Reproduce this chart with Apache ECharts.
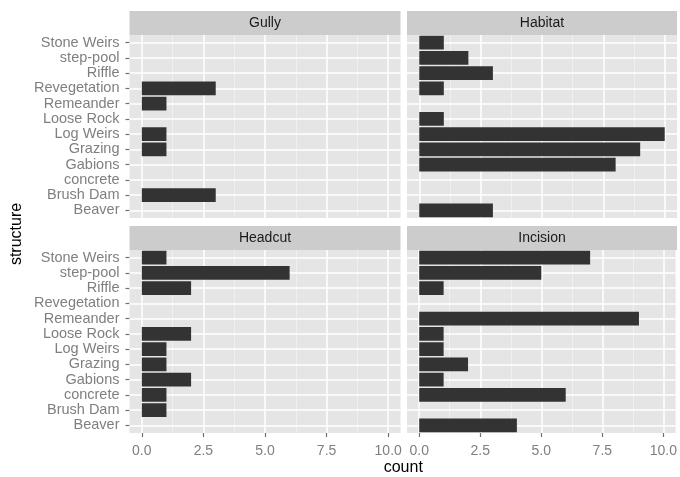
<!DOCTYPE html>
<html>
<head>
<meta charset="utf-8">
<script src="https://cdn.jsdelivr.net/npm/echarts@6/dist/echarts.min.js"></script>
<style>
  html, body { margin: 0; padding: 0; background: #ffffff; }
  #chart { width: 680px; height: 477px; }
</style>
</head>
<body>
<div id="chart"></div>
<script>
// Structure types, listed bottom to top on the vertical axis
const structures = ['Beaver', 'Brush Dam', 'concrete', 'Gabions', 'Grazing', 'Log Weirs',
  'Loose Rock', 'Remeander', 'Revegetation', 'Riffle', 'step-pool', 'Stone Weirs'];

// Counts per structure for each facet (same order as structures)
const gully    = [0, 3, 0, 0, 1, 1, 0, 1, 3, 0, 0, 0];
const habitat  = [3, 0, 0, 8, 9, 10, 1, 0, 1, 3, 2, 1];
const headcut  = [0, 1, 1, 2, 1, 1, 2, 0, 0, 2, 6, 1];
const incision = [4, 0, 6, 1, 2, 1, 1, 9, 0, 1, 5, 7];

const facetNames = ['Gully', 'Habitat', 'Headcut', 'Incision'];
const facetValues = [gully, habitat, headcut, incision];

// Count axis breaks
const countTicks = [0, 2.5, 5, 7.5, 10];
const countMinorTicks = [1.25, 3.75, 6.25, 8.75];

const FONT = "'Liberation Sans', Arial, sans-serif";
const PANEL_BG = '#E5E5E5';
const STRIP_BG = '#CCCCCC';
const BAR_FILL = '#333333';
const AXIS_GREY = '#7F7F7F';
const TICK_GREY = '#6E6E6E';
const STRIP_H = 24;

// 2x2 facet layout: [Gully, Habitat] on top, [Headcut, Incision] below
const panels = [
  { left: 129.5, top: 35,  width: 271, height: 183, showY: true,  showX: false },
  { left: 407,   top: 35,  width: 270, height: 183, showY: false, showX: false },
  { left: 129.5, top: 250, width: 271, height: 183, showY: true,  showX: true  },
  { left: 407,   top: 250, width: 270, height: 183, showY: false, showX: true  }
];

// Panel grid lines, drawn beneath the bars
const gridLines = [].concat(
  countMinorTicks.map(v => ({ xAxis: v, lineStyle: { color: '#F2F2F2', width: 0.8, type: 'solid' } })),
  countTicks.map(v => ({ xAxis: v, lineStyle: { color: '#FFFFFF', width: 1.5, type: 'solid' } })),
  structures.map(s => ({ yAxis: s, lineStyle: { color: '#FFFFFF', width: 1.5, type: 'solid' } }))
);

const grids = panels.map(p => ({
  left: p.left, top: p.top, width: p.width, height: p.height,
  show: true, backgroundColor: PANEL_BG, borderWidth: 0, containLabel: false
}));

const xAxes = panels.map((p, i) => ({
  type: 'value', gridIndex: i, min: -0.5, max: 10.5,
  axisLine: { show: p.showX, lineStyle: { color: 'rgba(0,0,0,0)' } },
  splitLine: { show: false },
  axisTick: { show: p.showX, length: 4, lineStyle: { color: TICK_GREY, width: 1.2 }, customValues: countTicks },
  axisLabel: {
    show: p.showX, customValues: countTicks, color: AXIS_GREY, fontFamily: FONT, fontSize: 14,
    margin: 11, formatter: v => Number(v).toFixed(1)
  }
}));

const yAxes = panels.map((p, i) => ({
  type: 'category', gridIndex: i, data: structures,
  axisLine: { show: p.showY, onZero: false, lineStyle: { color: 'rgba(0,0,0,0)' } },
  splitLine: { show: false },
  axisTick: { show: p.showY, alignWithLabel: true, length: 4, lineStyle: { color: TICK_GREY, width: 1.2 } },
  axisLabel: { show: p.showY, interval: 0, color: AXIS_GREY, fontFamily: FONT, fontSize: 14.5, margin: 10 }
}));

const series = facetValues.map((vals, i) => ({
  type: 'bar', name: facetNames[i], xAxisIndex: i, yAxisIndex: i,
  data: vals, barWidth: '90%', z: 2, silent: true,
  itemStyle: { color: BAR_FILL },
  markLine: {
    silent: true, symbol: ['none', 'none'], label: { show: false }, z: 1,
    animation: false, data: gridLines
  }
}));

// Facet strips and axis titles
const graphics = [];
panels.forEach((p, i) => {
  graphics.push({
    type: 'rect', silent: true, z: 0,
    shape: { x: p.left, y: p.top - STRIP_H, width: p.width, height: STRIP_H },
    style: { fill: STRIP_BG }
  });
  graphics.push({
    type: 'text', silent: true, z: 1,
    x: p.left + p.width / 2, y: p.top - STRIP_H / 2,
    style: { text: facetNames[i], fill: '#1A1A1A', font: '14px ' + FONT, align: 'center', verticalAlign: 'middle' }
  });
});
graphics.push({
  type: 'text', silent: true,
  x: (panels[0].left + panels[1].left + panels[1].width) / 2, y: 468,
  style: { text: 'count', fill: '#000000', font: '16px ' + FONT, align: 'center', verticalAlign: 'middle' }
});
graphics.push({
  type: 'text', silent: true,
  x: 17, y: (panels[0].top + panels[2].top + panels[2].height) / 2, rotation: Math.PI / 2,
  style: { text: 'structure', fill: '#000000', font: '16px ' + FONT, align: 'center', verticalAlign: 'middle' }
});

const chart = echarts.init(document.getElementById('chart'), null, { renderer: 'canvas' });
chart.setOption({
  backgroundColor: '#FFFFFF',
  animation: false,
  grid: grids,
  xAxis: xAxes,
  yAxis: yAxes,
  series: series,
  graphic: { elements: graphics }
});
</script>
</body>
</html>
